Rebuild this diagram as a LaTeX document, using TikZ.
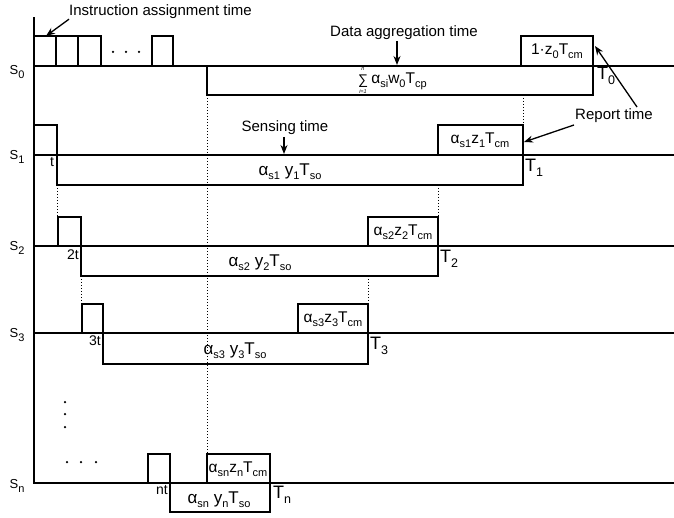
\documentclass[tikz,border=0pt]{standalone}
\usepackage{fontspec}
\setmainfont{Liberation Sans}
\usetikzlibrary{arrows.meta}
% lowered small text for subscripts
\newcommand{\subtx}[1]{\raisebox{-0.45ex}{\fontsize{11}{11}\selectfont #1}}
\newcommand{\subT}[1]{\raisebox{-0.5ex}{\fontsize{12.5}{12.5}\selectfont #1}}
\begin{document}
\begin{tikzpicture}[x=1pt,y=-1pt,
  wave/.style={line width=2.4pt, line join=miter, line cap=rect},
  guide/.style={dotted, line width=1pt},
  lbl/.style={font=\fontsize{15}{17}\selectfont, inner sep=0pt},
  sig/.style={font=\fontsize{13}{15}\selectfont, inner sep=0pt},
  boxtxt/.style={font=\fontsize{17}{19}\selectfont, inner sep=0pt},
  reptxt/.style={font=\fontsize{15.5}{17}\selectfont, inner sep=0pt},
  small/.style={font=\fontsize{14}{16}\selectfont, inner sep=0pt},
  endlbl/.style={font=\fontsize{18}{20}\selectfont, inner sep=0pt},
  limtxt/.style={font=\fontsize{5.5}{6}\selectfont, inner sep=0pt},
  ptr/.style={-{Stealth[length=9pt,width=7pt]}, line width=1.3pt},
  dot/.style={circle, fill, inner sep=0pt, minimum size=2.5pt},
]
\useasboundingbox (0,0) rectangle (674,518);

% time axis
\draw[wave] (34,18) -- (34,483);

% baselines of each sensor
\foreach \y in {66,155,246,333,483} \draw[wave] (34,\y) -- (674,\y);

% signal labels
\node[sig] (s0) at (17,72)  {S\subtx{0}};
\node[sig] (s1) at (17,157) {S\subtx{1}};
\node[sig] (s2) at (17,248) {S\subtx{2}};
\node[sig] (s3) at (17,335) {S\subtx{3}};
\node[sig] (sn) at (17,486) {S\subtx{n}};

% ---- S0 : instruction pulses, aggregation, report
\draw[wave] (34,36) rectangle (56,66);
\draw[wave] (56,36) rectangle (78,66);
\draw[wave] (78,36) rectangle (101,66);
\draw[wave] (152,36) rectangle (173,66);
\node[dot] (d01) at (113,52) {};
\node[dot] (d02) at (126,52) {};
\node[dot] (d03) at (139,52) {};

\draw[wave] (207,66) rectangle (593,95);
% summation sign with its limits set as three small pieces
\node[inner sep=0pt, font=\fontsize{14}{14}\selectfont] (aggsum) at (363,81) {∑};
\node[limtxt] (aggtop) at (363,69.5) {\itshape n};
\node[limtxt] (aggbot) at (363,92) {\itshape i=1};
\node[reptxt, anchor=west] (aggtxt) at ([xshift=3pt]aggsum.east)
  {α\subtx{si}w\subtx{0}T\subtx{cp}};
\draw[wave] (521,36) rectangle (593,66);
\node[reptxt] (rep0) at (557,51) {1·z\subtx{0}T\subtx{cm}};
\node[endlbl, anchor=west] (T0) at (597,76) {T\subT{0}};

% ---- S1
\draw[wave] (34,125) rectangle (57,155);
\draw[wave] (57,155) rectangle (523,185);
\node[boxtxt] (sen1) at (290,172) {α\subtx{s1} y\subtx{1}T\subtx{so}};
\draw[wave] (438,125) rectangle (523,155);
\node[reptxt] (rep1) at (480,140) {α\subtx{s1}z\subtx{1}T\subtx{cm}};
\node[endlbl, anchor=west] (T1) at (525,168) {T\subT{1}};
\node[small] (t1) at (52,162) {t};

% ---- S2
\draw[wave] (58,217) rectangle (81,246);
\draw[wave] (81,246) rectangle (438,276);
\node[boxtxt] (sen2) at (260,263) {α\subtx{s2} y\subtx{2}T\subtx{so}};
\draw[wave] (368,217) rectangle (438,246);
\node[reptxt] (rep2) at (403,232) {α\subtx{s2}z\subtx{2}T\subtx{cm}};
\node[endlbl, anchor=west] (T2) at (440,259) {T\subT{2}};
\node[small] (t2) at (73,255) {2t};

% ---- S3
\draw[wave] (82,304) rectangle (103,333);
\draw[wave] (103,333) rectangle (368,364);
\node[boxtxt] (sen3) at (235,351) {α\subtx{s3} y\subtx{3}T\subtx{so}};
\draw[wave] (298,304) rectangle (368,333);
\node[reptxt] (rep3) at (333,319) {α\subtx{s3}z\subtx{3}T\subtx{cm}};
\node[endlbl, anchor=west] (T3) at (370,346) {T\subT{3}};
\node[small] (t3) at (95,341) {3t};

% ---- ellipsis between S3 and Sn
\node[dot] (v1) at (65,402) {};
\node[dot] (v2) at (65,414) {};
\node[dot] (v3) at (65,427) {};
\node[dot] (h1) at (67,462) {};
\node[dot] (h2) at (81,462) {};
\node[dot] (h3) at (96,462) {};

% ---- Sn
\draw[wave] (148,454) rectangle (170,483);
\draw[wave] (170,483) rectangle (270,512);
\node[boxtxt] (senn) at (219,500) {α\subtx{sn} y\subtx{n}T\subtx{so}};
\draw[wave] (207,454) rectangle (270,483);
\node[reptxt] (repn) at (238,469) {α\subtx{sn}z\subtx{n}T\subtx{cm}};
\node[endlbl, anchor=west] (Tn) at (273,495) {T\subT{n}};
\node[small] (tn) at (162,490) {nt};

% ---- dotted alignment guides
\draw[guide] (207,95) -- (207,454);
\draw[guide] (523,95) -- (523,125);
\draw[guide] (57,185) -- (57,217);
\draw[guide] (438,185) -- (438,217);
\draw[guide] (81,276) -- (81,304);
\draw[guide] (368,276) -- (368,304);

% ---- annotations
\node[lbl, anchor=west] (instr) at (69,12) {Instruction assignment time};
\coordinate (instrTip) at (46,36);
\draw[ptr] (instr.south west) -- (instrTip);

\node[lbl] (aggl) at (404,33) {Data aggregation time};
\coordinate (aggFrom) at (397,41);
\coordinate (aggTip) at (397,65);
\draw[ptr] (aggFrom) -- (aggTip);

\node[lbl] (senl) at (285,128) {Sensing time};
\coordinate (senFrom) at (284,137);
\coordinate (senTip) at (284,154);
\draw[ptr] (senFrom) -- (senTip);

\node[lbl] (repl) at (614,116) {Report time};
\coordinate (repFrom1) at (574,125);
\coordinate (repTip1) at (524,142);
\coordinate (repFrom2) at (637,107);
\coordinate (repTip2) at (595,46);
\draw[ptr] (repFrom1) -- (repTip1);
\draw[ptr] (repFrom2) -- (repTip2);
\end{tikzpicture}
\end{document}
